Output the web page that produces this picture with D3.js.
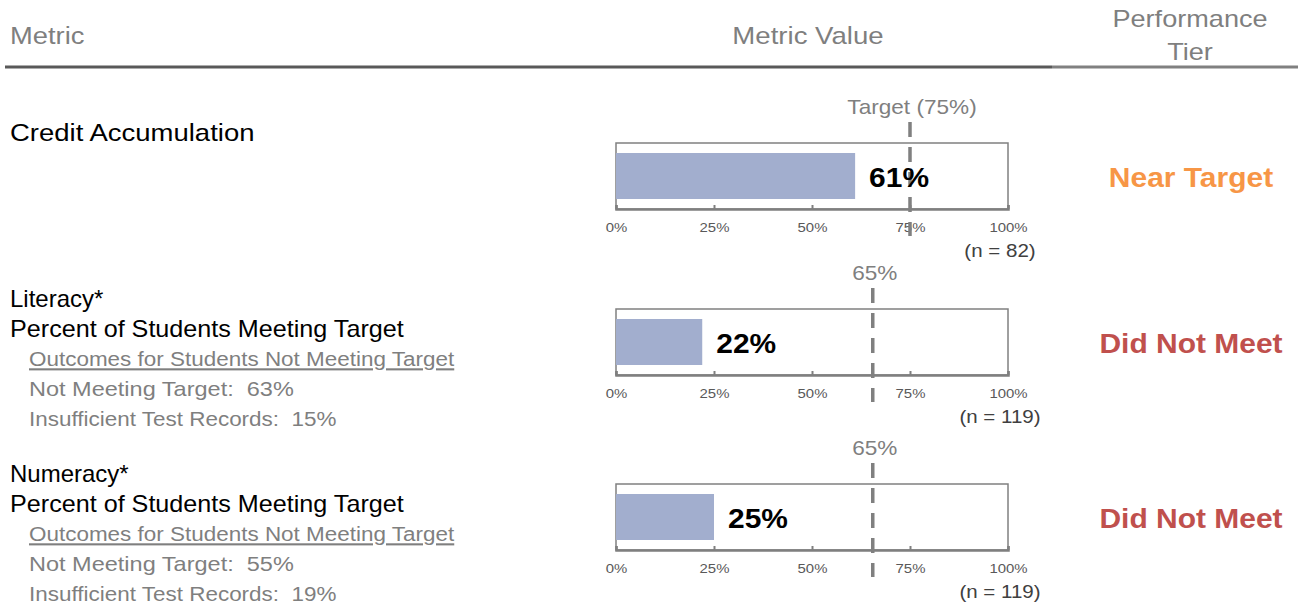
<!DOCTYPE html>
<html>
<head>
  <script src="https://d3js.org/d3.v7.min.js"></script>
  <style>
    body { margin: 0; background: #fff; }
    svg { font-family: Arial, "Liberation Sans", sans-serif; display: block; }
    text { white-space: pre; }
  </style>
</head>
<body>
  <svg width="1298" height="602"></svg>
  <script>
    // data
    const metrics = ["Credit Accumulation", "Literacy*", "Numeracy*"];
    const values = [61, 22, 25];
    const targets = [75, 65.5, 65.5];
    const targetLabels = ["Target (75%)", "65%", "65%"];
    const counts = [82, 119, 119];
    const tiers = ["Near Target", "Did Not Meet", "Did Not Meet"];
    const subtitles = [null, "Percent of Students Meeting Target", "Percent of Students Meeting Target"];
    const notMeeting = [null, 63, 55];
    const insufficient = [null, 15, 19];
    const tickValues = [0, 25, 50, 75, 100];

    const tierColor = d3.scaleOrdinal()
      .domain(["Near Target", "Did Not Meet"])
      .range(["#F79646", "#C0504D"]);

    const svg = d3.select("svg");

    // text helper, sx stretches glyphs sideways around the anchor point
    function label(parent, x, y, str, o) {
      o = o || {};
      return parent.append("text")
        .attr("transform", `translate(${x},${y}) scale(${o.sx || 1},1)`)
        .attr("dy", "0.35em")
        .attr("text-anchor", o.anchor || "start")
        .attr("fill", o.fill || "#000")
        .style("font-size", (o.size || 24) + "px")
        .style("font-weight", o.bold ? "bold" : null)
        .text(str);
    }

    // header
    const grey = "#7f7f7f";
    label(svg, 10, 36, "Metric", {fill: grey, sx: 1.14});
    label(svg, 808, 36, "Metric Value", {fill: grey, sx: 1.15, anchor: "middle"});
    label(svg, 1190, 19, "Performance", {fill: grey, sx: 1.13, anchor: "middle"});
    label(svg, 1190, 52, "Tier", {fill: grey, sx: 1.13, anchor: "middle"});
    svg.append("line").attr("x1", 5).attr("x2", 1052).attr("y1", 67).attr("y2", 67)
      .attr("stroke", "#595959").attr("stroke-width", 3);
    svg.append("line").attr("x1", 1052).attr("x2", 1298).attr("y1", 67).attr("y2", 67)
      .attr("stroke", "#808080").attr("stroke-width", 3);

    const x = d3.scaleLinear().domain([0, 100]).range([616, 1008]);
    const rowTop = [143, 309, 484];
    const boxH = 66;

    metrics.forEach((m, i) => {
      const top = rowTop[i];
      const bottom = top + boxH;
      const mid = top + boxH / 2;
      const g = svg.append("g");

      // left labels
      label(g, 10, top - 10, m, {sx: i === 0 ? 1.146 : 1});
      if (subtitles[i]) {
        label(g, 10, top + 20, subtitles[i], {sx: 1.048});
        label(g, 29, top + 50, "Outcomes for Students Not Meeting Target", {fill: grey, size: 21, sx: 1.07})
          .attr("text-decoration", "underline");
        label(g, 29, top + 80, "Not Meeting Target:  " + notMeeting[i] + "%", {fill: grey, size: 21, sx: 1.12});
        label(g, 29, top + 110, "Insufficient Test Records:  " + insufficient[i] + "%", {fill: grey, size: 21, sx: 1.07});
      }

      // box
      g.append("rect").attr("x", x(0)).attr("y", top).attr("width", x(100) - x(0)).attr("height", boxH)
        .attr("fill", "none").attr("stroke", "#808080").attr("stroke-width", 1.5);

      // bar
      g.append("rect").attr("x", x(0)).attr("y", top + 10).attr("width", x(values[i]) - x(0)).attr("height", boxH - 20)
        .attr("fill", "#A2AECE");

      // axis
      const axis = d3.axisTop(x).tickValues(tickValues).tickSize(4).tickFormat(d => d + "%");
      const ag = g.append("g").attr("transform", `translate(0,${bottom})`).call(axis);
      ag.select(".domain").attr("stroke", "#7f7f7f").attr("stroke-width", 2.5);
      ag.selectAll(".tick line").attr("stroke", "#7f7f7f").attr("stroke-width", 2);
      ag.selectAll(".tick text")
        .attr("y", null).attr("dy", "0.35em")
        .attr("transform", "translate(0,18) scale(1.15,1)")
        .attr("fill", "#595959").style("font-size", "13px").style("font-family", "Arial, 'Liberation Sans', sans-serif");

      // target
      g.append("line").attr("x1", x(targets[i])).attr("x2", x(targets[i]))
        .attr("y1", top - 21).attr("y2", bottom + 27)
        .attr("stroke", "#808080").attr("stroke-width", 3.5).attr("stroke-dasharray", "15,10");
      label(g, x(targets[i]) + 2, top - 36, targetLabels[i], {fill: grey, size: 20, sx: 1.13, anchor: "middle"});

      // value label
      label(g, x(values[i]) + 14, mid + 1, values[i] + "%", {size: 28, bold: true, sx: 1.07});

      // n
      label(g, 1000, bottom + 42, "(n = " + counts[i] + ")", {fill: "#404040", size: 18, sx: 1.14, anchor: "middle"});

      // tier
      label(g, 1191, mid + 2, tiers[i], {fill: tierColor(tiers[i]), size: 27, bold: true, sx: 1.11, anchor: "middle"});
    });
  </script>
</body>
</html>
